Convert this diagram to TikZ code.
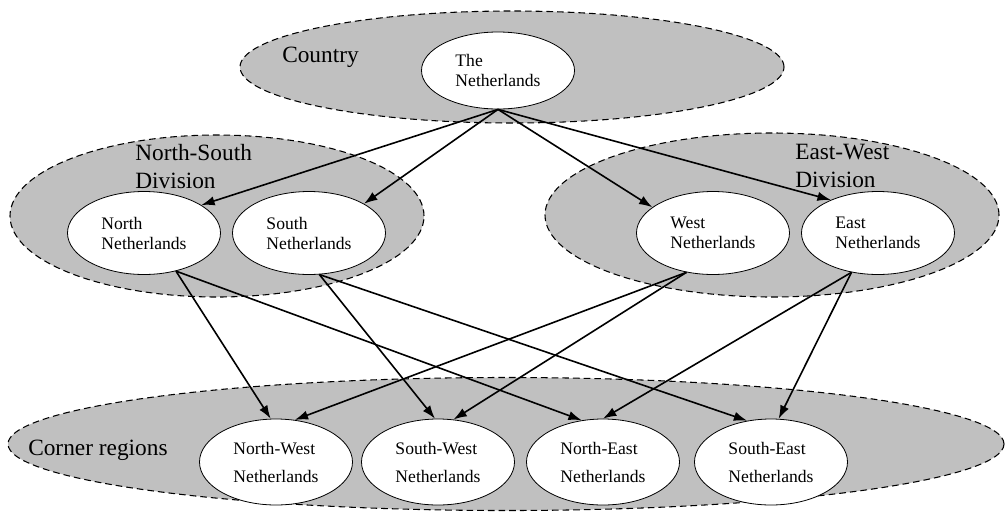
\documentclass[tikz,border=0pt]{standalone}
\usepackage{fontspec}
\setmainfont{Liberation Serif}
\usetikzlibrary{shapes.geometric,arrows.meta}
\definecolor{grp}{HTML}{C0C0C0}
\begin{document}
\begin{tikzpicture}[x=0.75pt,y=-0.75pt,
  group/.style={ellipse, draw, fill=grp, dash pattern=on 5pt off 3pt, line width=0.8pt, inner sep=0pt},
  region/.style={ellipse, draw, fill=white, line width=0.6pt, inner sep=2pt,
    minimum width=114.75pt, minimum height=62.25pt, align=left,
    font=\fontsize{13.2}{15}\selectfont},
  corner/.style={region, minimum height=64.5pt, font=\fontsize{13.2}{21}\selectfont},
  tag/.style={anchor=west, inner sep=0pt, align=left, font=\fontsize{17.5}{21}\selectfont},
  link/.style={-{Latex[length=10pt,width=7pt]}, line width=1.2pt}]
\useasboundingbox (0,0) rectangle (1007,515);

% grouping ellipses
\node[group, minimum width=408pt, minimum height=84pt] (gcountry) at (512,67) {};
\node[group, minimum width=310.5pt, minimum height=121.5pt] (gns) at (217,216) {};
\node[group, minimum width=340.5pt, minimum height=123pt] (gew) at (772,215) {};
\node[group, minimum width=747pt, minimum height=99.75pt] (gcorner) at (506,444) {};

% group labels
\node[tag] (lcountry) at (282,57) {Country};
\node[tag] (lns) at (135,167) {North-South\\Division};
\node[tag] (lew) at (795,166) {East-West\\Division};
\node[tag] (lcorner) at (28,450) {Corner regions};

% regions
\node[region, minimum height=57.75pt] (nl) at (498,70.5) {The\\Netherlands};
\node[region] (north) at (144,233) {North\\Netherlands};
\node[region] (south) at (309,233) {South\\Netherlands};
\node[region] (west) at (713,233) {West\\Netherlands};
\node[region] (east) at (878,233) {East\\Netherlands};
\node[corner] (nw) at (276,462) {North-West\\Netherlands};
\node[corner] (sw) at (438,462) {South-West\\Netherlands};
\node[corner] (ne) at (603,462) {North-East\\Netherlands};
\node[corner] (se) at (771,462) {South-East\\Netherlands};

% country to divisions
\draw[link] (nl.south) -- (north.26);
\draw[link] (nl.south) -- (south.28);
\draw[link] (nl.south) -- (west.157);
\draw[link] (nl.south) -- (east.145);

% divisions to corner regions
\draw[link] (north.-50) -- (nw.97);
\draw[link] (north.-50) -- (ne.117);
\draw[link] (south.-76) -- (sw.94);
\draw[link] (south.-76) -- (se.120);
\draw[link] (west.-124) -- (nw.66);
\draw[link] (west.-124) -- (sw.70);
\draw[link] (east.-124) -- (ne.90);
\draw[link] (east.-124) -- (se.80);
\end{tikzpicture}
\end{document}
